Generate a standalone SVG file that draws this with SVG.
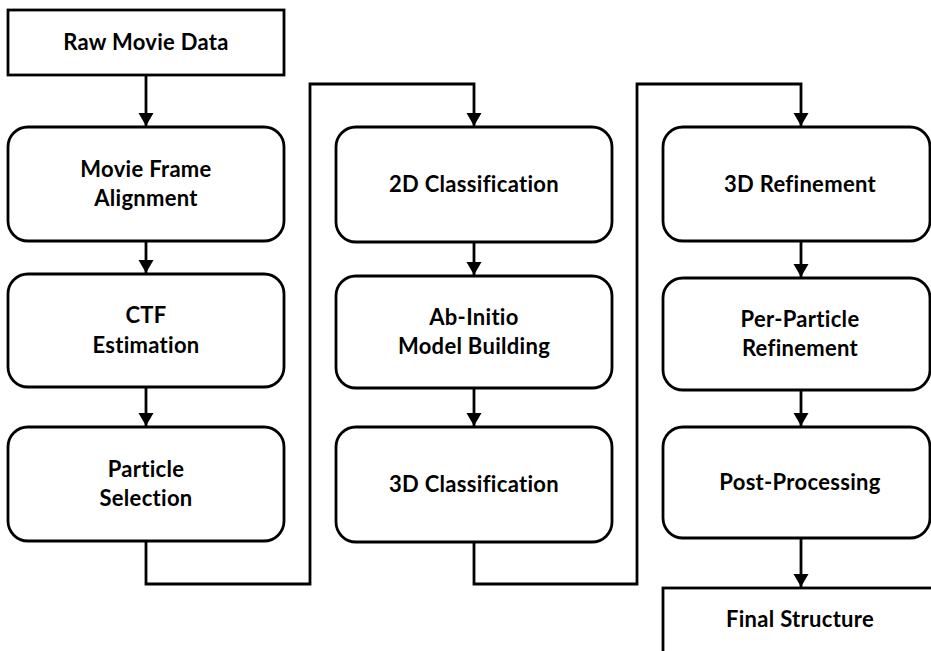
<svg xmlns="http://www.w3.org/2000/svg" width="931" height="651" viewBox="0 0 931 651">
  <style>
    .box { fill: #ffffff; stroke: #000000; stroke-width: 2.8; }
    .lbl { font-family: Lato, "Open Sans", "Liberation Sans", sans-serif; font-weight: 700; font-size: 22px; letter-spacing: 0.3px; fill: #000000; text-anchor: middle; }
    .wire { fill: none; stroke: #000000; stroke-width: 2.8; stroke-linejoin: miter; }
  </style>
  <defs>
    <marker id="head" markerUnits="userSpaceOnUse" markerWidth="14" markerHeight="16" refX="13" refY="7.5" orient="auto" viewBox="0 0 14 16">
      <path d="M0,0 L13,7.5 L0,15 z" fill="#000000"/>
    </marker>
  </defs>
  <rect width="931" height="651" fill="#ffffff"/>

  <!-- connectors -->
  <g id="connectors">
    <path class="wire" d="M146,75 V126" marker-end="url(#head)"/>
    <path class="wire" d="M146,241 V273" marker-end="url(#head)"/>
    <path class="wire" d="M146,387 V426" marker-end="url(#head)"/>
    <path class="wire" d="M146,541 V584 H310 V84 H474 V126" marker-end="url(#head)"/>
    <path class="wire" d="M474,242 V275" marker-end="url(#head)"/>
    <path class="wire" d="M474,388 V426" marker-end="url(#head)"/>
    <path class="wire" d="M474,542 V584 H637 V84 H801 V126" marker-end="url(#head)"/>
    <path class="wire" d="M801,241 V277" marker-end="url(#head)"/>
    <path class="wire" d="M801,390 V426" marker-end="url(#head)"/>
    <path class="wire" d="M801,538 V587" marker-end="url(#head)"/>
  </g>

  <!-- column 1 -->
  <g id="raw-movie-data">
    <rect class="box" x="8" y="10" width="276" height="65"/>
    <text class="lbl" x="146" y="50">Raw Movie Data</text>
  </g>
  <g id="movie-frame-alignment">
    <rect class="box" x="8" y="127" width="276" height="114" rx="20" ry="20"/>
    <text class="lbl" x="146" y="177">Movie Frame</text>
    <text class="lbl" x="146" y="206">Alignment</text>
  </g>
  <g id="ctf-estimation">
    <rect class="box" x="8" y="274" width="276" height="113" rx="20" ry="20"/>
    <text class="lbl" x="146" y="323">CTF</text>
    <text class="lbl" x="146" y="353">Estimation</text>
  </g>
  <g id="particle-selection">
    <rect class="box" x="8" y="427" width="276" height="114" rx="20" ry="20"/>
    <text class="lbl" x="146" y="477">Particle</text>
    <text class="lbl" x="146" y="506">Selection</text>
  </g>

  <!-- column 2 -->
  <g id="classification-2d">
    <rect class="box" x="336" y="127" width="276" height="115" rx="20" ry="20"/>
    <text class="lbl" x="474" y="192">2D Classification</text>
  </g>
  <g id="ab-initio">
    <rect class="box" x="336" y="276" width="276" height="112" rx="20" ry="20"/>
    <text class="lbl" x="474" y="325">Ab-Initio</text>
    <text class="lbl" x="474" y="354">Model Building</text>
  </g>
  <g id="classification-3d">
    <rect class="box" x="336" y="427" width="276" height="115" rx="20" ry="20"/>
    <text class="lbl" x="474" y="492">3D Classification</text>
  </g>

  <!-- column 3 -->
  <g id="refinement-3d">
    <rect class="box" x="663" y="127" width="267" height="114" rx="20" ry="20"/>
    <text class="lbl" x="800" y="192">3D Refinement</text>
  </g>
  <g id="per-particle-refinement">
    <rect class="box" x="663" y="278" width="267" height="112" rx="20" ry="20"/>
    <text class="lbl" x="800" y="327">Per-Particle</text>
    <text class="lbl" x="800" y="356">Refinement</text>
  </g>
  <g id="post-processing">
    <rect class="box" x="663" y="427" width="267" height="111" rx="20" ry="20"/>
    <text class="lbl" x="800" y="490">Post-Processing</text>
  </g>
  <g id="final-structure">
    <rect class="box" x="663" y="588" width="276" height="70"/>
    <text class="lbl" x="800" y="627">Final Structure</text>
  </g>
</svg>
